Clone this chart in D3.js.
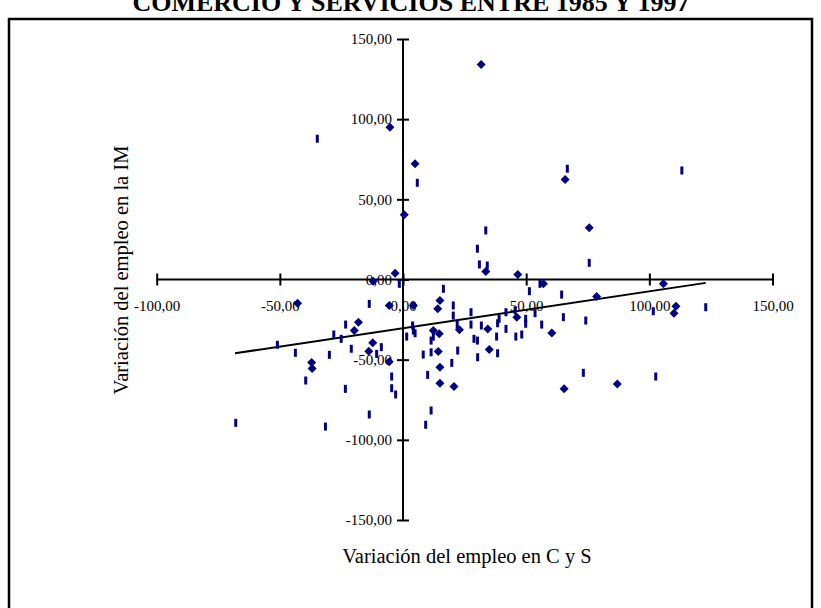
<!DOCTYPE html>
<html lang="es">
<head>
<meta charset="utf-8">
<title>Variación del empleo</title>
<script src="https://d3js.org/d3.v7.min.js"></script>
<style>
  body { margin: 0; background: #fff; }
  svg { display: block; font-family: "Liberation Serif", "Times New Roman", serif; }
  .axis path, .axis line { stroke: #000; stroke-width: 2; fill: none; }
  .axis text { font-family: "Liberation Serif", "Times New Roman", serif; font-size: 15px; fill: #000; }
</style>
</head>
<body>
<svg id="chart" width="821" height="608"></svg>
<script>
// Title and axis titles
var chartTitle = "COMERCIO Y SERVICIOS ENTRE 1985 Y 1997";
var xTitle = "Variación del empleo en C y S";
var yTitle = "Variación del empleo en la IM";

// Tick values (labels use comma decimals)
var xTicks = [-100, -50, 0, 50, 100, 150];
var yTicks = [-150, -100, -50, 0, 50, 100, 150];

// Points drawn with diamond markers
var diamondX = [-3.2, -12.1, -42.8, -5.6, 4.2, -18.1, -19.8, -37.1, -36.9, -12.3,
  -13.9, -5.6, 33.6, 46.6, 57.0, 105.7, 78.6, 15.0, 14.1, 46.2,
  60.4, 110.8, 110.0, 12.3, 14.7, 22.9, 34.4, 14.3, 35.0, 15.0,
  15.0, 20.7, 65.4, 87.0, 31.7, -5.3, 4.9, 0.5, 65.8, 75.6];
var diamondY = [3.9, -1.1, -14.8, -16.2, -16.2, -26.6, -31.8, -51.8, -55.5, -39.5,
  -44.7, -51.3, 5.0, 3.1, -2.7, -2.7, -10.6, -13.1, -18.3, -23.5,
  -33.3, -16.7, -21.0, -31.8, -33.9, -31.4, -30.8, -44.9, -43.7, -54.7,
  -64.7, -66.7, -68.2, -65.1, 134.1, 95.0, 72.2, 40.4, 62.4, 32.3];

// Points drawn with dash markers
var dashX = [-1.5, -13.7, -23.3, -28.1, -25.1, -51.0, -43.7, -29.9, -21.0, -10.7,
  -8.8, -39.5, -23.4, -4.6, -4.6, -3.0, -13.7, -67.9, -31.5, 1.5,
  3.9, 4.2, 4.9, -34.8, 5.8, 66.7, 113.2, 33.6, 30.2, 31.0,
  34.2, 75.6, 55.6, 51.3, 16.4, 64.4, 20.4, 20.4, 27.6, 27.6,
  45.5, 49.8, 49.8, 53.6, 41.8, 39.0, 38.4, 65.1, 74.2, 56.3,
  101.6, 122.9, 12.3, 22.0, 31.8, 38.0, 28.8, 30.2, 45.8, 48.2,
  11.4, 8.2, 11.4, 22.2, 30.3, 38.4, 19.8, 10.0, 73.2, 102.6,
  11.4, 9.2, 41.8];
var dashY = [-2.7, -15.2, -28.1, -34.3, -37.0, -40.7, -45.7, -47.0, -43.2, -46.4,
  -42.2, -63.0, -68.2, -60.5, -67.8, -71.7, -84.2, -89.4, -91.7, -35.6,
  -28.7, -31.8, -33.5, 87.8, 60.3, 69.1, 68.0, 30.6, 19.2, 9.4,
  8.7, 10.4, -2.7, -7.3, -5.8, -9.4, -16.2, -22.5, -20.4, -28.1,
  -19.3, -24.5, -27.6, -21.0, -20.4, -24.5, -27.3, -23.5, -25.6, -28.1,
  -19.8, -17.3, -35.6, -28.1, -28.7, -35.6, -37.0, -38.1, -35.6, -34.3,
  -38.1, -46.8, -45.4, -44.3, -48.5, -46.0, -52.0, -59.5, -58.2, -60.5,
  -81.7, -90.6, -30.8];

// Linear trend line end points
var trendX = [-68.2, 122.9];
var trendY = [-46.0, -2.1];

var markColor = "#000080";

var svg = d3.select("#chart");

// Scales
var x = d3.scaleLinear().domain([-100, 150]).range([156.7, 772.5]);
var y = d3.scaleLinear().domain([-150, 150]).range([520, 39]);

var fmt = function(d) { return d3.format(".2f")(d).replace(".", ",").replace("−", "-"); };

// Title (partly cut off at the top, as in the original)
svg.append("text")
    .attr("x", 411)
    .attr("y", 11)
    .attr("text-anchor", "middle")
    .style("font-size", "26px")
    .style("font-weight", "bold")
    .text(chartTitle);

// Chart frame
svg.append("rect")
    .attr("x", 9)
    .attr("y", 19)
    .attr("width", 803)
    .attr("height", 620)
    .attr("fill", "none")
    .attr("stroke", "#000")
    .attr("stroke-width", 2.5);

// X axis crossing at y = 0
var gx = svg.append("g")
    .attr("class", "axis")
    .attr("transform", "translate(0," + y(0) + ")")
    .call(d3.axisBottom(x).tickValues(xTicks).tickFormat(fmt).tickSizeOuter(0).tickSize(6));
gx.attr("font-family", null).attr("font-size", null);
gx.select(".domain").attr("d", "M" + x(-100) + ",0H" + x(150));
gx.selectAll(".tick line").attr("y1", -6).attr("y2", 6);
gx.selectAll(".tick text").attr("y", 31).attr("dy", null);

// Y axis crossing at x = 0
var gy = svg.append("g")
    .attr("class", "axis")
    .attr("transform", "translate(" + x(0) + ",0)")
    .call(d3.axisLeft(y).tickValues(yTicks).tickFormat(fmt).tickSizeOuter(0).tickSize(6));
gy.attr("font-family", null).attr("font-size", null);
gy.select(".domain").attr("d", "M0," + y(150) + "V" + y(-150));
gy.selectAll(".tick line").attr("x1", -6).attr("x2", 6);
gy.selectAll(".tick text").attr("x", -11).attr("dy", "0.32em");

// Trend line
svg.append("line")
    .attr("x1", x(trendX[0]))
    .attr("y1", y(trendY[0]))
    .attr("x2", x(trendX[1]))
    .attr("y2", y(trendY[1]))
    .attr("stroke", "#000")
    .attr("stroke-width", 2);

// Dash markers
svg.selectAll(".dash")
    .data(d3.range(dashX.length))
  .enter().append("rect")
    .attr("class", "dash")
    .attr("x", function(i) { return x(dashX[i]) - 1.5; })
    .attr("y", function(i) { return y(dashY[i]) - 4; })
    .attr("width", 3)
    .attr("height", 8)
    .attr("fill", markColor);

// Diamond markers
svg.selectAll(".diamond")
    .data(d3.range(diamondX.length))
  .enter().append("path")
    .attr("class", "diamond")
    .attr("transform", function(i) { return "translate(" + x(diamondX[i]) + "," + y(diamondY[i]) + ")"; })
    .attr("d", "M0,-4.5L4.5,0L0,4.5L-4.5,0Z")
    .attr("fill", markColor);

// Axis titles
svg.append("text")
    .attr("x", 467)
    .attr("y", 563)
    .attr("text-anchor", "middle")
    .style("font-size", "20.5px")
    .text(xTitle);

svg.append("text")
    .attr("transform", "translate(128,270) rotate(-90)")
    .attr("text-anchor", "middle")
    .style("font-size", "20.5px")
    .text(yTitle);
</script>
</body>
</html>
